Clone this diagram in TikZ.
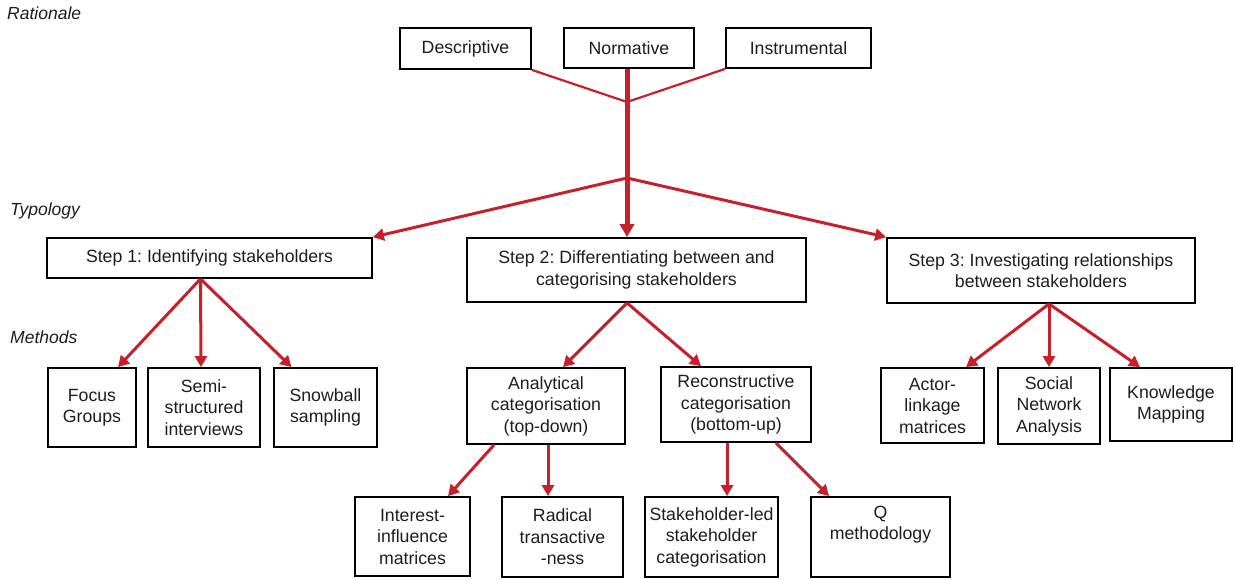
\documentclass[tikz,border=0pt]{standalone}
\usepackage{fontspec}
\setmainfont{Liberation Sans}
\usepackage{xcolor}
\definecolor{linkred}{HTML}{C8202A}
\definecolor{inkdark}{HTML}{1C1C24}
\usepackage{tikz}
\usetikzlibrary{arrows.meta, positioning, calc}
\frenchspacing

\begin{document}
\begin{tikzpicture}[x=1pt, y=-1pt,
    box/.style={draw=black, line width=1.8pt, align=center, text=inkdark,
                font=\fontsize{17.7}{21.5}\selectfont, inner sep=0pt},
    lvl/.style={font=\fontsize{17.5}{21.5}\selectfont\itshape, text=inkdark,
                anchor=west, inner sep=0pt},
    feed/.style={draw=linkred, line width=2.2pt},
    trunk/.style={draw=linkred, line width=5pt,
                  -{Triangle[length=13pt, width=14pt]}},
    link/.style={draw=linkred, line width=3pt,
                 -{Triangle[length=11pt, width=12pt]}}]
        \useasboundingbox (0,0) rectangle (1235,579);

        % ---- level labels ----
        \node[lvl] (lrat)  at (7, 13)  {Rationale};
        \node[lvl] (ltyp)  at (10, 211) {Typology};
        \node[lvl] (lmeth) at (10, 337) {Methods};

        % ---- rationale ----
        \node[box, minimum width=131, minimum height=41] (desc)  at (465.5, 48.5) {Descriptive};
        \node[box, minimum width=130, minimum height=40] (norm)  at (629, 48)    {Normative};
        \node[box, minimum width=145, minimum height=40] (instr) at (798.5, 48)  {Instrumental};
        \coordinate (rjoin) at (627, 102);
        \coordinate (tjoin) at (627, 178);

        % ---- typology ----
        \node[box, minimum width=325, minimum height=40] (step1) at (209.5, 258)
              {Step 1: Identifying stakeholders};
        \node[box, minimum width=339, minimum height=64] (step2) at (636.5, 270)
              {Step 2: Differentiating between and\\categorising stakeholders};
        \node[box, minimum width=308, minimum height=65] (step3) at (1041, 270.5)
              {Step 3: Investigating relationships\\between stakeholders};

        % ---- methods, step 1 ----
        \node[box, minimum width=88,  minimum height=79] (focus) at (92, 407.5)
              {Focus\\Groups};
        \node[box, minimum width=112, minimum height=79] (semi)  at (204, 407.5)
              {Semi-\\structured\\interviews};
        \node[box, minimum width=103, minimum height=79] (snow)  at (325.5, 407.5)
              {Snowball\\sampling};

        % ---- methods, step 2 ----
        \node[box, minimum width=158, minimum height=76] (analyt) at (546, 406)
              {Analytical\\categorisation\\(top-down)};
        \node[box, minimum width=150, minimum height=75] (recon)  at (736, 404.5)
              {Reconstructive\\categorisation\\(bottom-up)};
        \node[box, minimum width=115, minimum height=79] (intinf)  at (412.5, 536.5)
              {Interest-\\influence\\matrices};
        \node[box, minimum width=121, minimum height=80] (radical) at (562.5, 537)
              {Radical\\transactive\\-ness};
        \node[box, minimum width=133, minimum height=80] (sled)    at (711.5, 537)
              {Stakeholder-led\\stakeholder\\categorisation};
        \node[box, minimum width=139, minimum height=80] (qmeth)   at (880.5, 537)
              {Q\\methodology\\\strut};

        % ---- methods, step 3 ----
        \node[box, minimum width=103, minimum height=75] (actor) at (932.5, 405.5)
              {Actor-\\linkage\\matrices};
        \node[box, minimum width=102, minimum height=76] (sna)   at (1049, 406)
              {Social\\Network\\Analysis};
        \node[box, minimum width=122, minimum height=73] (know)  at (1171, 404.5)
              {Knowledge\\Mapping};

        % ---- connectors ----
        \draw[feed] (desc.south east) -- (rjoin);
        \draw[feed] (instr.south west) -- (rjoin);
        \draw[trunk] (norm.south -| rjoin) -- (step2.north -| rjoin);
        \draw[link] (tjoin) -- (step1.north east);
        \draw[link] (tjoin) -- (step3.north west);

        % step 1
        \draw[link] ([xshift=-9pt]step1.south) -- ([xshift=26pt]focus.north);
        \draw[link] ([xshift=-9pt]step1.south) -- ([xshift=-3pt]semi.north);
        \draw[link] ([xshift=-9pt]step1.south) -- ([xshift=-34pt]snow.north);

        % step 2
        \draw[link] ([xshift=-9.5pt]step2.south) -- ([xshift=17pt]analyt.north);
        \draw[link] ([xshift=-9.5pt]step2.south) -- ([xshift=-35pt]recon.north);
        \draw[link] ([xshift=-52pt]analyt.south) -- ([xshift=35.5pt]intinf.north);
        \draw[link] ([xshift=2pt]analyt.south)   -- ([xshift=-14.5pt]radical.north);
        \draw[link] ([xshift=-9pt]recon.south)   -- ([xshift=15.5pt]sled.north);
        \draw[link] ([xshift=40pt]recon.south)   -- ([xshift=-51.5pt]qmeth.north);

        % step 3
        \draw[link] ([xshift=8pt]step3.south) -- ([xshift=33.5pt]actor.north);
        \draw[link] ([xshift=8pt]step3.south) -- ([xshift=0pt]sna.north);
        \draw[link] ([xshift=8pt]step3.south) -- ([xshift=-31pt]know.north);
      \end{tikzpicture}
\end{document}
